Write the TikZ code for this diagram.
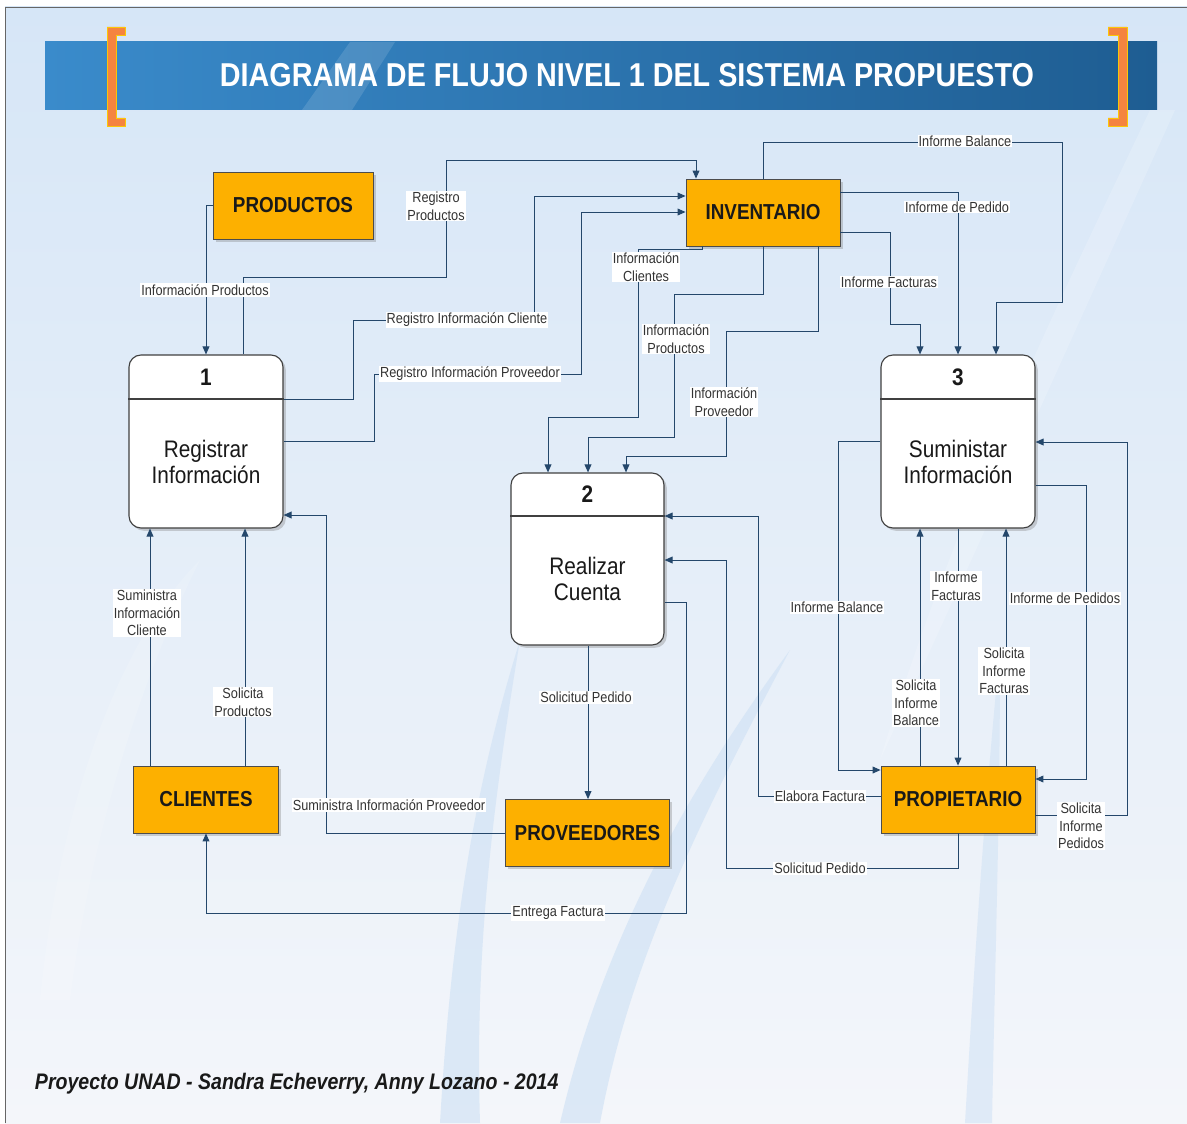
\documentclass[tikz,border=0pt]{standalone}
\usepackage{fontspec}
\setmainfont{Liberation Sans}[FakeStretch=0.87]
\usetikzlibrary{arrows.meta,shadows,calc}
\definecolor{ent}{HTML}{FDB000}
\definecolor{flowc}{HTML}{24476B}
\definecolor{labc}{HTML}{333333}
\definecolor{bgtop}{HTML}{D6E6F7}
\definecolor{bgbot}{HTML}{F4F6FA}
\definecolor{swoosh}{HTML}{D2E3F5}
\definecolor{bar1}{HTML}{3A8BCB}
\definecolor{bar2}{HTML}{1E5D92}
\definecolor{brk}{HTML}{F5843F}
\newcommand\pxu{0.025cm}
\tikzset{
  entity/.style={draw=black!70, line width=0.6pt, fill=ent, minimum height=67*\pxu,
    font=\fontsize{15.4}{18}\selectfont\bfseries, text=black!90, inner sep=0pt,
    drop shadow={shadow xshift=0.07cm, shadow yshift=-0.07cm, opacity=0.35}},
  proc/.style={draw=black!75, line width=0.8pt, fill=white, rounded corners=0.3cm,
    minimum width=154*\pxu, minimum height=173*\pxu, inner sep=0pt,
    drop shadow={shadow xshift=0.07cm, shadow yshift=-0.07cm, opacity=0.35}},
  pnum/.style={font=\fontsize{17}{20}\selectfont\bfseries, text=black!90},
  ptext/.style={font=\fontsize{17}{18.5}\selectfont, align=center, text=black!90},
  flow/.style={draw=flowc, line width=0.7pt, -{Triangle[length=0.2cm,width=0.17cm]}},
  lab/.style={fill=white, inner sep=0.8pt, font=\fontsize{10.4}{12.6}\selectfont,
    text=labc, align=center},
}
\begin{document}
\begin{tikzpicture}[x=0.025cm,y=-0.025cm]
\useasboundingbox (0,0) rectangle (1187,1123);
% background
\fill[white] (0,0) rectangle (1187,1123);
\shade[top color=bgtop, bottom color=bgbot] (5,7) rectangle (1187,1123);
\fill[swoosh, opacity=0.7] (440,1123) .. controls (450,950) and (470,800) .. (520,640)
  .. controls (490,820) and (475,960) .. (480,1123) -- cycle;
\fill[swoosh, opacity=0.7] (560,1123) .. controls (600,950) and (680,800) .. (790,650)
  .. controls (700,820) and (630,960) .. (600,1123) -- cycle;
\fill[swoosh, opacity=0.6] (965,1123) .. controls (975,950) and (985,800) .. (1000,650)
  .. controls (1000,820) and (995,960) .. (992,1123) -- cycle;
\fill[white, opacity=0.18] (1150,110) .. controls (1060,300) and (960,500) .. (880,760)
  .. controls (990,520) and (1080,320) .. (1175,110) -- cycle;
\fill[white, opacity=0.15] (40,1000) .. controls (60,800) and (120,640) .. (200,560)
  .. controls (140,680) and (90,840) .. (70,1000) -- cycle;
\draw[black!60, line width=0.5pt] (5,1123) -- (5,7) -- (1187,7);
% title bar
\shade[left color=bar1, right color=bar2] (45,42) rectangle (1157,110);
\fill[white, opacity=0.13] (302,110) -- (350,42) -- (395,42) -- (352,110) -- cycle;
\filldraw[fill=brk, draw=yellow!60!orange, line width=0.5pt]
  (107,27) -- (125,27) -- (125,35) -- (116,35) -- (116,118) -- (125,118) -- (125,126) -- (107,126) -- cycle;
\filldraw[fill=brk, draw=yellow!60!orange, line width=0.5pt]
  (1127,27) -- (1108,27) -- (1108,35) -- (1118,35) -- (1118,118) -- (1108,118) -- (1108,126) -- (1127,126) -- cycle;
\node[text=white, font=\fontsize{23.5}{28}\selectfont\bfseries] (title) at (627,75)
  {DIAGRAMA DE FLUJO NIVEL 1 DEL SISTEMA PROPUESTO};
% entities
\node[entity, minimum width=160*\pxu] (prod) at (293,205.5) {PRODUCTOS};
\node[entity, minimum width=154*\pxu] (inv) at (763,212.5) {INVENTARIO};
\node[entity, minimum width=145*\pxu] (cli) at (206,799.5) {CLIENTES};
\node[entity, minimum width=164*\pxu] (prov) at (587.5,833) {PROVEEDORES};
\node[entity, minimum width=154*\pxu] (prop) at (958,799.5) {PROPIETARIO};
% processes
\node[proc] (p1) at (206,441.5) {};
\draw[black!75, line width=0.8pt] (p1.west |- 0,399) -- (p1.east |- 0,399);
\node[pnum] (p1n) at (206,377) {1};
\node[ptext] (p1t) at (206,462) {Registrar\\Información};
\node[proc, minimum width=153*\pxu, minimum height=172*\pxu] (p2) at (587.5,559) {};
\draw[black!75, line width=0.8pt] (p2.west |- 0,516) -- (p2.east |- 0,516);
\node[pnum] (p2n) at (587.5,494) {2};
\node[ptext] (p2t) at (587.5,579) {Realizar\\Cuenta};
\node[proc] (p3) at (958,441.5) {};
\draw[black!75, line width=0.8pt] (p3.west |- 0,399) -- (p3.east |- 0,399);
\node[pnum] (p3n) at (958,377) {3};
\node[ptext] (p3t) at (958,462) {Suministar\\Información};
% connectors
\draw[flow] (prod.west) -- (206,205.5) -- (p1.north);
\draw[flow] (p1.north -| 243,0) -- (243,277) -- (446,277) -- (446,160) -- (696,160) -- (inv.north -| 696,0);
\draw[flow] (p1.east |- 0,399) -- (353,399) -- (353,320) -- (534,320) -- (534,196) -- (inv.west |- 0,196);
\draw[flow] (p1.east |- 0,441) -- (374,441) -- (374,374) -- (581,374) -- (581,212) -- (inv.west |- 0,212);
\draw[flow] (inv.south -| 702,0) -- (702,249) -- (638,249) -- (638,417) -- (548,417) -- (p2.north -| 548,0);
\draw[flow] (inv.south -| 763,0) -- (763,294) -- (674,294) -- (674,437) -- (588,437) -- (p2.north -| 588,0);
\draw[flow] (inv.south -| 818,0) -- (818,331) -- (726,331) -- (726,456) -- (626,456) -- (p2.north -| 626,0);
\draw[flow] (inv.north -| 763,0) -- (763,142) -- (1062,142) -- (1062,302) -- (996,302) -- (p3.north -| 996,0);
\draw[flow] (inv.east |- 0,192) -- (958,192) -- (p3.north -| 958,0);
\draw[flow] (inv.east |- 0,232) -- (890,232) -- (890,324) -- (920,324) -- (p3.north -| 920,0);
\draw[flow] (p3.west |- 0,441) -- (838,441) -- (838,770) -- (prop.west |- 0,770);
\draw[flow] (prop.north -| 920,0) -- (p3.south -| 920,0);
\draw[flow] (p3.south -| 958,0) -- (prop.north -| 958,0);
\draw[flow] (prop.north -| 1006,0) -- (p3.south -| 1006,0);
\draw[flow] (p3.east |- 0,485) -- (1086,485) -- (1086,779) -- (prop.east |- 0,779);
\draw[flow] (prop.east |- 0,815) -- (1127,815) -- (1127,442) -- (p3.east |- 0,442);
\draw[flow] (prop.west |- 0,796) -- (758,796) -- (758,516) -- (p2.east |- 0,516);
\draw[flow] (prop.south) -- (958,868) -- (726,868) -- (726,560) -- (p2.east |- 0,560);
\draw[flow] (p2.east |- 0,602) -- (686,602) -- (686,913) -- (206,913) -- (cli.south);
\draw[flow] (p2.south -| 588,0) -- (prov.north -| 588,0);
\draw[flow] (prov.west |- 0,833) -- (326,833) -- (326,515) -- (p1.east |- 0,515);
\draw[flow] (cli.north -| 150,0) -- (p1.south -| 150,0);
\draw[flow] (cli.north -| 245,0) -- (p1.south -| 245,0);
% labels
\node[lab] (l1) at (205,290) {Información Productos};
\node[lab] (l2) at (436,206) {Registro\\Productos};
\node[lab] (l3) at (467,320) {Registro Información Cliente};
\node[lab] (l4) at (470,374) {Registro Información Proveedor};
\node[lab] (l5) at (646,267) {Información\\Clientes};
\node[lab] (l6) at (676,339) {Información\\Productos};
\node[lab] (l7) at (724,402) {Información\\Proveedor};
\node[lab] (l8) at (965,141) {Informe Balance};
\node[lab] (l9) at (957,207) {Informe de Pedido};
\node[lab] (l10) at (889,282) {Informe Facturas};
\node[lab] (l11) at (837,607) {Informe Balance};
\node[lab] (l12) at (916,703) {Solicita\\Informe\\Balance};
\node[lab] (l13) at (956,586) {Informe\\Facturas};
\node[lab] (l14) at (1004,671) {Solicita\\Informe\\Facturas};
\node[lab] (l15) at (1065,598) {Informe de Pedidos};
\node[lab] (l16) at (1081,826) {Solicita\\Informe\\Pedidos};
\node[lab] (l17) at (820,796) {Elabora Factura};
\node[lab] (l18) at (820,868) {Solicitud Pedido};
\node[lab] (l19) at (558,913) {Entrega Factura};
\node[lab] (l20) at (586,697) {Solicitud Pedido};
\node[lab] (l21) at (389,805) {Suministra Información Proveedor};
\node[lab] (l22) at (147,613) {Suministra\\Información\\Cliente};
\node[lab] (l23) at (243,702) {Solicita\\Productos};
% footer
\node[anchor=west, font=\fontsize{16}{19}\selectfont\bfseries\itshape, text=black!90] (foot) at (30,1084)
  {Proyecto UNAD - Sandra Echeverry, Anny Lozano - 2014};
\end{tikzpicture}
\end{document}
